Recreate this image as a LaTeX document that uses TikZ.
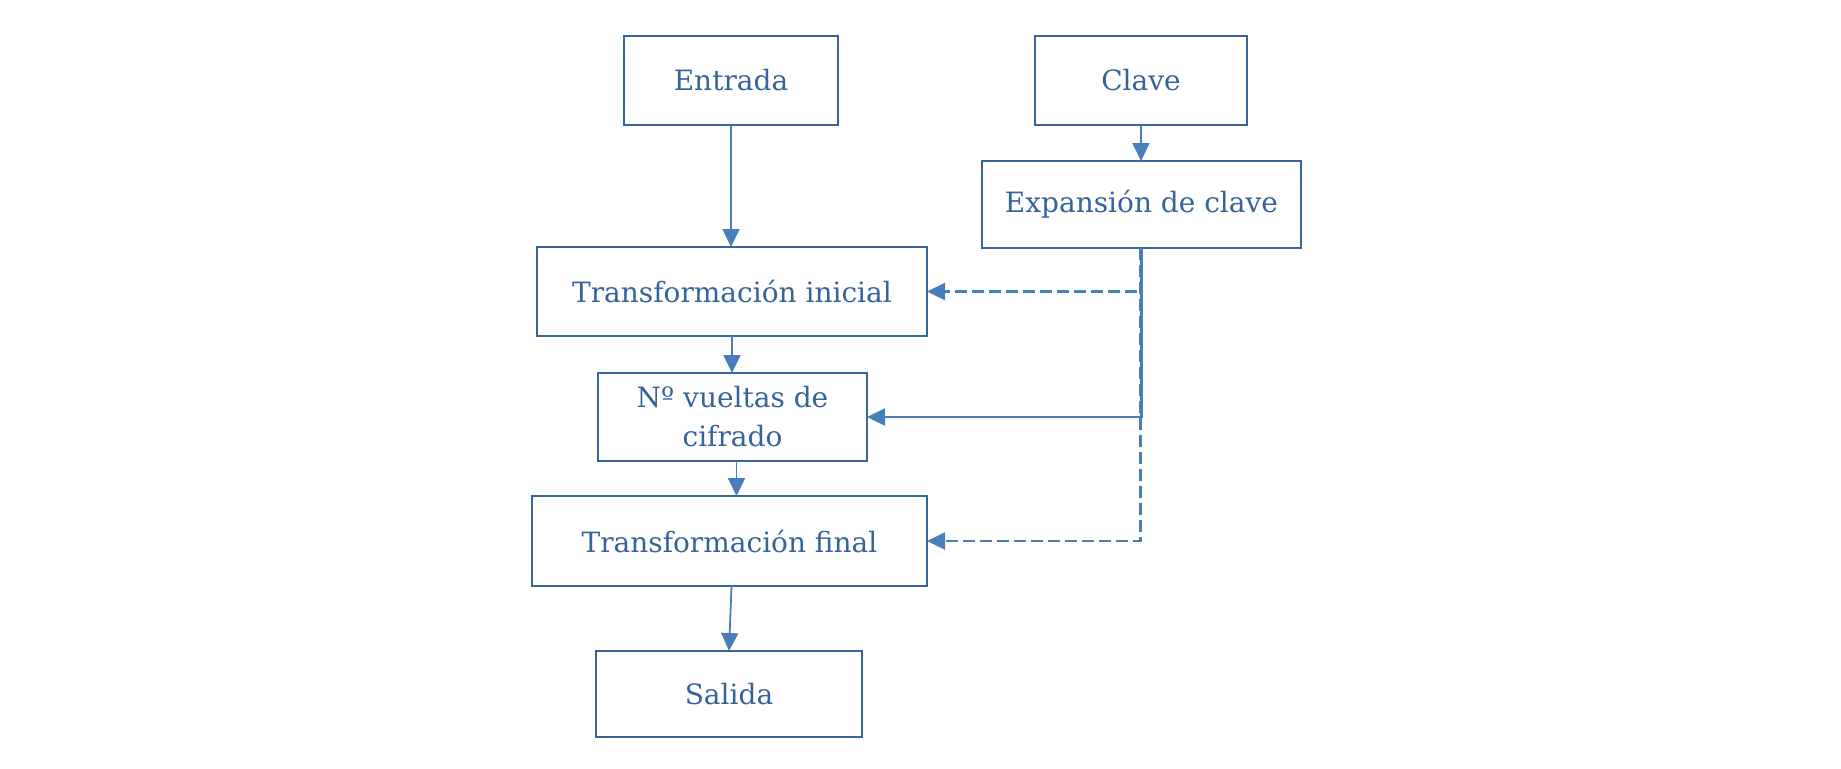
\documentclass[tikz,border=0pt]{standalone}
\usepackage{fontspec}
\setmainfont{DejaVu Serif}
\usetikzlibrary{arrows.meta}
\definecolor{boxc}{HTML}{3A659A}
\definecolor{txtc}{HTML}{35639A}
\definecolor{arrc}{HTML}{4A7EBB}
\tikzset{
  blk/.style={draw=boxc, line width=1.1pt, rectangle, inner sep=0pt, outer sep=0pt,
    text=txtc, font=\fontsize{14}{19.5}\selectfont, align=center},
  conn/.style={draw=arrc, line width=0.9pt, -{Triangle[length=9pt,width=8.5pt]}},
  connb/.style={draw=arrc, line width=1.2pt, -{Triangle[length=9pt,width=8.5pt]}},
  dconn/.style={draw=arrc, line width=1.15pt, dash pattern=on 6pt off 2.5pt, -{Triangle[length=9pt,width=8.5pt]}},
}
\begin{document}
\begin{tikzpicture}[x=0.5pt,y=-0.5pt]
\useasboundingbox (0,0) rectangle (1841,768);
\node[blk, minimum width=107pt, minimum height=44.5pt] (ent) at (731,80.5) {Entrada};
\node[blk, minimum width=106pt, minimum height=44.5pt] (cla) at (1141,80.5) {Clave};
\node[blk, minimum width=159.5pt, minimum height=43.5pt] (exp) at (1141.5,204.5) {Expansión de clave};
\node[blk, minimum width=195pt, minimum height=44.5pt] (ti) at (732,291.5) {Transformación inicial};
\node[blk, minimum width=134.5pt, minimum height=44pt] (nv) at (732.5,417) {Nº vueltas de\\cifrado};
\node[blk, minimum width=197.5pt, minimum height=45pt] (tf) at (729.5,541) {Transformación final};
\node[blk, minimum width=133pt, minimum height=43pt] (sal) at (729,694) {Salida};
\coordinate (ds) at ([xshift=-0.5pt]exp.south);
\coordinate (dti) at (ds |- ti.east);
\draw[conn] (ent.south) -- (ent.south |- ti.north);
\draw[conn] (cla.south) -- (cla.south |- exp.north);
\draw[conn] (ti.south) -- (ti.south |- nv.north);
\draw[conn] ([xshift=2pt]nv.south) -- ([xshift=2pt]nv.south |- tf.north);
\draw[conn] ([xshift=1pt]tf.south) -- (sal.north);
\draw[dconn] (ds) |- (tf.east);
\draw[dconn] ([xshift=-2pt]dti) -- (ti.east);
\draw[connb] (exp.south) |- (nv.east);
\end{tikzpicture}
\end{document}
